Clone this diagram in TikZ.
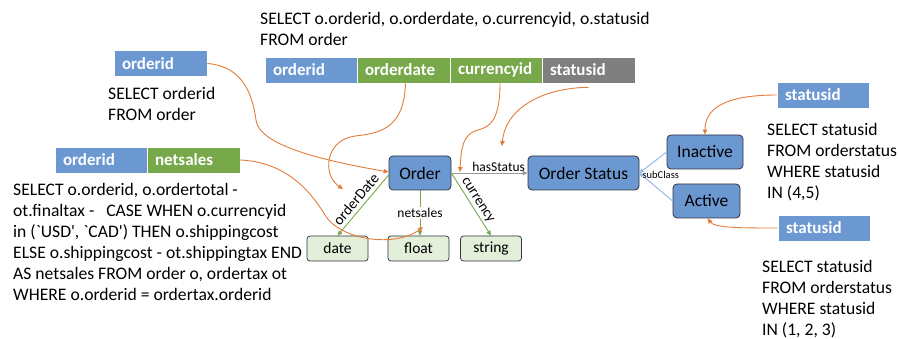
\documentclass[tikz,border=0pt]{standalone}
\usepackage{fontspec}
\setmainfont{Carlito}
\newfontfamily\rawq{Carlito}
\usetikzlibrary{arrows.meta}
\definecolor{cblue}{HTML}{6C98D2}
\definecolor{cgreen}{HTML}{77A84A}
\definecolor{cgray}{HTML}{7F7F7F}
\definecolor{corange}{HTML}{E37D3A}
\definecolor{lgreen}{HTML}{E3EFD9}
\definecolor{lblue}{HTML}{8FB3E0}
\definecolor{cborder}{HTML}{2E3440}
\begin{document}
\begin{tikzpicture}[x=1pt,y=-1pt,
  bar/.style 2 args={fill=#1, draw=white, line width=0.6pt, text=white,
    font=\bfseries\fontsize{17}{19}\selectfont, minimum height=26pt,
    inner xsep=8pt, inner ysep=0pt, text width=#2, align=left, anchor=center},
  cls/.style={draw=cborder, fill=cblue, rounded corners=4pt, line width=0.8pt,
    minimum height=34pt, inner sep=0pt, font=\fontsize{17.5}{20}\selectfont},
  typ/.style={draw=cborder, fill=lgreen, rounded corners=3pt, line width=0.7pt,
    minimum width=61pt, minimum height=25pt, inner sep=0pt,
    font=\fontsize{15.5}{18}\selectfont},
  txt/.style={anchor=north west, align=left, inner sep=0pt,
    font=\fontsize{17.6}{21}\selectfont},
  oc/.style={draw=corange, line width=0.9pt, -{Triangle[length=5pt,width=4.5pt]}},
  gr/.style={draw=cgreen, line width=0.9pt, -{Triangle[length=5pt,width=4.5pt]}},
  ga/.style={draw=cgray!80, line width=0.9pt, -{Triangle[length=5pt,width=4.5pt]}},
  bl/.style={draw=lblue, line width=0.9pt, -{Stealth[length=5pt,width=4.5pt]}},
  lab/.style={font=\fontsize{14}{16}\selectfont, inner sep=1pt}
]
\useasboundingbox[fill=white] (0,0) rectangle (898,339);

% texts
\node[txt] (q1) at (260,12) {SELECT o.orderid,\ o.orderdate, o.currencyid, o.statusid\\FROM order};
\node[txt] (q2) at (108,87) {SELECT orderid\\FROM order};
\node[txt] (q3) at (13,183) {SELECT o.orderid,\ o.ordertotal\ -\\ot.finaltax -\ \ \ CASE WHEN o.currencyid\\in ({\rawq `}USD{\rawq '}, {\rawq `}CAD{\rawq '}) THEN o.shippingcost\\ELSE o.shippingcost\ - ot.shippingtax END\\AS netsales FROM order\ o, ordertax ot\\WHERE o.orderid = ordertax.orderid};
\node[txt] (q4) at (767,123) {SELECT statusid\\FROM orderstatus\\WHERE statusid\\IN (4,5)};
\node[txt] (q5) at (762,260) {SELECT statusid\\FROM orderstatus\\WHERE statusid\\IN (1, 2, 3)};

% bars
\node[bar={cblue}{76pt}] (to) at (311,70) {orderid};
\node[bar={cgreen}{77pt}] (od) at (403.5,70) {orderdate};
\node[bar={cgreen}{76pt}] (cu) at (496,70) {currencyid};
\node[bar={cgray}{77pt}] (st) at (588.5,70) {statusid};
\node[bar={cblue}{77pt}] (lo) at (160.5,63.5) {orderid};
\node[bar={cblue}{76pt}] (no) at (101,160) {orderid};
\node[bar={cgreen}{77pt}] (ns) at (193.5,160) {netsales};
\node[bar={cblue}{76pt}] (s1) at (823,95) {statusid};
\node[bar={cblue}{76pt}] (s2) at (824,228) {statusid};

% classes
\node[cls, minimum width=62pt] (O) at (420,173) {Order};
\node[cls, minimum width=111pt] (OS) at (583.5,173) {Order Status};
\node[cls, minimum width=76pt] (I) at (705,152) {Inactive};
\node[cls, minimum width=67pt] (A) at (706.5,201) {Active};
\node[typ] (D) at (337.5,248.5) {date};
\node[typ] (F) at (418.5,248.5) {float};
\node[typ] (S) at (491,248.5) {string};

% free ends
\coordinate (ad) at (343,189);
\coordinate (af) at (423,227);
\coordinate (ac) at (460,172);
\coordinate (ah) at (502,146);

% relations
\draw[gr] ([yshift=-2pt]O.west) -- node[lab, sloped, above, inner sep=3.5pt, font=\fontsize{15}{17}\selectfont] {orderDate} (D.north);
\draw[gr] (O.south) -- node[lab, fill=white, font=\fontsize{13.5}{15}\selectfont] {netsales} (O.south |- F.north);
\draw[gr] (O.east) -- node[lab, sloped, above, inner sep=2pt, font=\fontsize{14.5}{16}\selectfont] {currency} (S.north);
\draw[ga] (O.east) -- node[lab, above, pos=0.62, font=\fontsize{13.5}{15}\selectfont] {hasStatus} (OS.west);
\draw[bl] (I.west) -- (OS.east);
\draw[bl] (A.west) -- (OS.east);
\node[anchor=west, inner sep=1pt, font=\fontsize{10.5}{12}\selectfont] (sc) at ([xshift=2pt,yshift=-2pt]OS.east) {subClass};

% mappings
\draw[oc] (lo.east) .. controls (240,66) and (252,90) .. (256,120)
  .. controls (259,145) and (320,160) .. ([yshift=1pt]O.west);
\draw[oc] ([xshift=2pt]od.south) .. controls (404,125) and (385,133) .. (355,136)
  .. controls (325,140) and (322,175) .. (ad);
\draw[oc] (ns.east) .. controls (285,162) and (310,190) .. (325,215)
  .. controls (340,240) and (395,248) .. (af);
\draw[oc] ([xshift=4pt]cu.south) .. controls (500,120) and (490,127) .. (478,130)
  .. controls (462,134) and (461,150) .. (ac);
\draw[oc] ([yshift=-4pt]st.south) .. controls (540,88) and (505,110) .. (ah);
\draw[oc] (s1.west) .. controls (722,95) and (705,110) .. (I.north);
\draw[oc] (s2.west) .. controls (740,228) and (715,228) .. ([xshift=1pt]A.south);
\end{tikzpicture}
\end{document}
